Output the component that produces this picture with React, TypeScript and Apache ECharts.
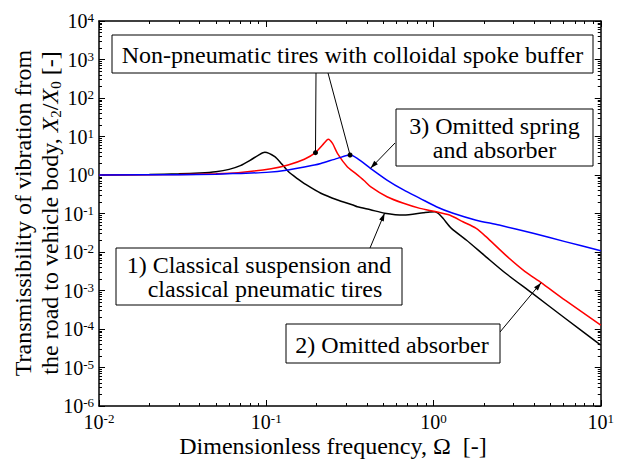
import React, { useEffect, useRef } from 'react';
import * as echarts from 'echarts';

const FONT = 'Liberation Serif, Times New Roman, serif';

// 1) Classical suspension and classical pneumatic tires (black)
const blackOmega = [0.01, 0.02, 0.03, 0.04, 0.05, 0.06, 0.07, 0.08, 0.09, 0.098, 0.1125, 0.123, 0.135, 0.155, 0.169, 0.212, 0.267, 0.33, 0.35, 0.42, 0.51, 0.662, 0.869, 0.95, 1.02, 1.07, 1.14, 1.28, 1.57, 2.06, 2.7, 3.89, 6.12, 10];
const blackT = [1.0, 1.03, 1.07, 1.13, 1.22, 1.4, 1.75, 2.4, 3.3, 3.9, 3.0, 2.0, 1.25, 0.78, 0.6, 0.335, 0.224, 0.166, 0.15, 0.125, 0.102, 0.091, 0.105, 0.11, 0.111, 0.1, 0.075, 0.041, 0.0205, 0.0075, 0.0028, 0.00085, 0.00019, 0.000038];

// 2) Omitted absorber (red)
const redOmega = [0.01, 0.03, 0.05, 0.068, 0.107, 0.135, 0.169, 0.197, 0.217, 0.235, 0.249, 0.267, 0.305, 0.342, 0.384, 0.42, 0.527, 0.662, 0.83, 1.04, 1.247, 1.5, 1.8, 2.06, 2.7, 3.53, 4.4, 6.12, 10];
const redT = [1.0, 1.03, 1.08, 1.15, 1.45, 1.82, 2.56, 3.8, 6.0, 8.5, 6.6, 3.6, 1.64, 1.1, 0.72, 0.5, 0.273, 0.184, 0.136, 0.111, 0.091, 0.061, 0.041, 0.025, 0.0083, 0.0031, 0.0016, 0.00056, 0.000126];

// 3) Omitted spring and absorber (blue)
const blueOmega = [0.01, 0.03, 0.05, 0.068, 0.1, 0.135, 0.194, 0.212, 0.267, 0.317, 0.35, 0.42, 0.527, 0.662, 0.83, 1.04, 1.31, 1.8, 2.47, 3.89, 6.12, 10];
const blueT = [1.0, 1.02, 1.05, 1.1, 1.17, 1.35, 1.82, 2.0, 2.7, 3.3, 2.7, 1.49, 0.74, 0.41, 0.248, 0.15, 0.101, 0.067, 0.05, 0.031, 0.0186, 0.0108];

const xDecades = [-2, -1, 0];
const yDecades = [-6, -5, -4, -3, -2, -1, 0, 1, 2, 3];
const minorMultipliers = [2, 3, 4, 5, 6, 7, 8, 9];

// annotation anchors on curves (data space)
const redDot = [0.197, 3.8];
const blueDot = [0.317, 3.3];
const arrow1Tip = [0.51, 0.102];
const arrow2Tip = [4.4, 0.0016];
const arrow3Tip = [0.42, 1.49];

const zip = (xs: number[], ys: number[]) => xs.map((x, i) => [x, ys[i]]);

const minorX: number[] = [];
xDecades.forEach((d) => minorMultipliers.forEach((m) => minorX.push(+(m * Math.pow(10, d)).toPrecision(3))));
const minorY: number[] = [];
yDecades.forEach((d) => minorMultipliers.forEach((m) => minorY.push(+(m * Math.pow(10, d)).toPrecision(3))));

const labelFmt = (v: number) => {
  const e = Math.round(Math.log10(v));
  return `{b|10}{s|${e}}`;
};
const labelRich = {
  b: { fontSize: 20, fontFamily: FONT, lineHeight: 20, color: '#000' },
  s: { fontSize: 13, fontFamily: FONT, lineHeight: 12, verticalAlign: 'top', color: '#000' },
};

export default function App() {
  const ref = useRef<HTMLDivElement>(null);
  useEffect(() => {
    if (!ref.current) return;
    const chart = echarts.init(ref.current, null, { renderer: 'svg' });

    const xBase: any = { type: 'log', logBase: 10, min: 0.01, max: 10, interval: 1, splitLine: { show: false }, gridIndex: 0 };
    const yBase: any = { type: 'log', logBase: 10, min: 1e-6, max: 1e4, interval: 1, splitLine: { show: false }, gridIndex: 0 };
    const axLine = { show: true, onZero: false, lineStyle: { color: '#000', width: 1.5 } };
    const majTick = { show: true, inside: true, length: 6, lineStyle: { color: '#000', width: 1 } };
    const minTick = (vals: number[]) => ({ show: true, inside: true, length: 3, customValues: vals, lineStyle: { color: '#000', width: 1 } });
    const lineCommon = { type: 'line', xAxisIndex: 0, yAxisIndex: 0, showSymbol: false, smooth: 0.25 };

    const option: any = {
      animation: false,
      textStyle: { fontFamily: FONT },
      grid: { left: 99, right: 11, top: 21, bottom: 55, containLabel: false },
      xAxis: [
        { ...xBase, position: 'bottom', axisLine: axLine, axisTick: majTick, axisLabel: { show: true, margin: 6, fontFamily: FONT, formatter: labelFmt, rich: labelRich } },
        { ...xBase, position: 'bottom', axisLine: { show: false }, axisTick: minTick(minorX), axisLabel: { show: false } },
        { ...xBase, position: 'top', axisLine: axLine, axisTick: majTick, axisLabel: { show: false } },
        { ...xBase, position: 'top', axisLine: { show: false }, axisTick: minTick(minorX), axisLabel: { show: false } },
      ],
      yAxis: [
        { ...yBase, position: 'left', axisLine: axLine, axisTick: majTick, axisLabel: { show: true, margin: 5, fontFamily: FONT, formatter: labelFmt, rich: labelRich } },
        { ...yBase, position: 'left', axisLine: { show: false }, axisTick: minTick(minorY), axisLabel: { show: false } },
        { ...yBase, position: 'right', axisLine: axLine, axisTick: majTick, axisLabel: { show: false } },
        { ...yBase, position: 'right', axisLine: { show: false }, axisTick: minTick(minorY), axisLabel: { show: false } },
      ],
      series: [
        { ...lineCommon, name: 'black', data: zip(blackOmega, blackT), lineStyle: { color: '#000000', width: 1.5 }, itemStyle: { color: '#000' } },
        { ...lineCommon, name: 'red', data: zip(redOmega, redT), lineStyle: { color: '#ff0000', width: 1.5 }, itemStyle: { color: '#f00' } },
        { ...lineCommon, name: 'blue', data: zip(blueOmega, blueT), lineStyle: { color: '#0000ff', width: 1.5 }, itemStyle: { color: '#00f' } },
      ],
    };
    chart.setOption(option);

    const toPx = (p: number[]) => chart.convertToPixel({ xAxisIndex: 0, yAxisIndex: 0 } as any, p) as number[];

    const lineEl = (a: number[], b: number[]) => ({ type: 'line', z: 10, shape: { x1: a[0], y1: a[1], x2: b[0], y2: b[1] }, style: { stroke: '#000', lineWidth: 1 } });
    const dotEl = (p: number[]) => ({ type: 'circle', z: 11, shape: { cx: p[0], cy: p[1], r: 2.5 }, style: { fill: '#000' } });
    const arrowEl = (from: number[], tip: number[]) => {
      const dx = tip[0] - from[0];
      const dy = tip[1] - from[1];
      const len = Math.hypot(dx, dy) || 1;
      const ux = dx / len, uy = dy / len;
      const L = 8, W = 2.5;
      const bx = tip[0] - ux * L, by = tip[1] - uy * L;
      return { type: 'polygon', z: 11, shape: { points: [[tip[0], tip[1]], [bx - uy * W, by + ux * W], [bx + uy * W, by - ux * W]] }, style: { fill: '#000' } };
    };
    const boxEl = (x: number, y: number, w: number, h: number) => ({ type: 'rect', z: 12, shape: { x, y, width: w, height: h }, style: { fill: '#fff', stroke: '#000', lineWidth: 1 } });
    const textEl = (x: number, y: number, text: string, lh = 24) => ({
      type: 'text', z: 13, x, y,
      style: { text, fontSize: 24, fontFamily: FONT, fill: '#000', align: 'center', verticalAlign: 'middle', lineHeight: lh },
    });

    const pRed = toPx(redDot);
    const pBlue = toPx(blueDot);
    const p1 = toPx(arrow1Tip);
    const p2 = toPx(arrow2Tip);
    const p3 = toPx(arrow3Tip);

    const graphics: any[] = [
      lineEl([316, 73], pRed), dotEl(pRed),
      lineEl([328, 73], pBlue), dotEl(pBlue),
      lineEl([395, 143], p3), arrowEl([395, 143], p3),
      lineEl([370, 248], p1), arrowEl([370, 248], p1),
      lineEl([500, 332], p2), arrowEl([500, 332], p2),
      boxEl(112, 35, 481, 38), textEl(352.5, 54.5, 'Non-pneumatic tires with colloidal spoke buffer'),
      boxEl(396, 109, 197, 57), textEl(494.5, 138, '3) Omitted spring\nand absorber'),
      boxEl(116, 248, 286, 57), textEl(259, 277, '1) Classical suspension and\n  classical pneumatic tires'),
      boxEl(286, 324, 214, 39), textEl(392, 344.5, '2) Omitted absorber'),
      textEl(333, 446, 'Dimensionless frequency, \u03a9  [-]'),
      {
        type: 'text', z: 13, x: 36, y: 213, rotation: Math.PI / 2,
        style: {
          text: 'Transmissibility of vibration from\nthe road to vehicle body, {i|X}{sub|2}/{i|X}{sub|0} [-]',
          fontSize: 24, fontFamily: FONT, fill: '#000', lineHeight: 27,
          align: 'center', verticalAlign: 'middle',
          rich: {
            i: { fontSize: 24, fontFamily: FONT, fontStyle: 'italic', lineHeight: 27 },
            sub: { fontSize: 15, fontFamily: FONT, lineHeight: 15, verticalAlign: 'bottom' },
          },
        },
      },
    ];
    chart.setOption({ graphic: graphics });

    return () => chart.dispose();
  }, []);
  return <div ref={ref} style={{ position: 'absolute', left: 0, top: 0, width: 617, height: 461, background: '#fff' }} />;
}
